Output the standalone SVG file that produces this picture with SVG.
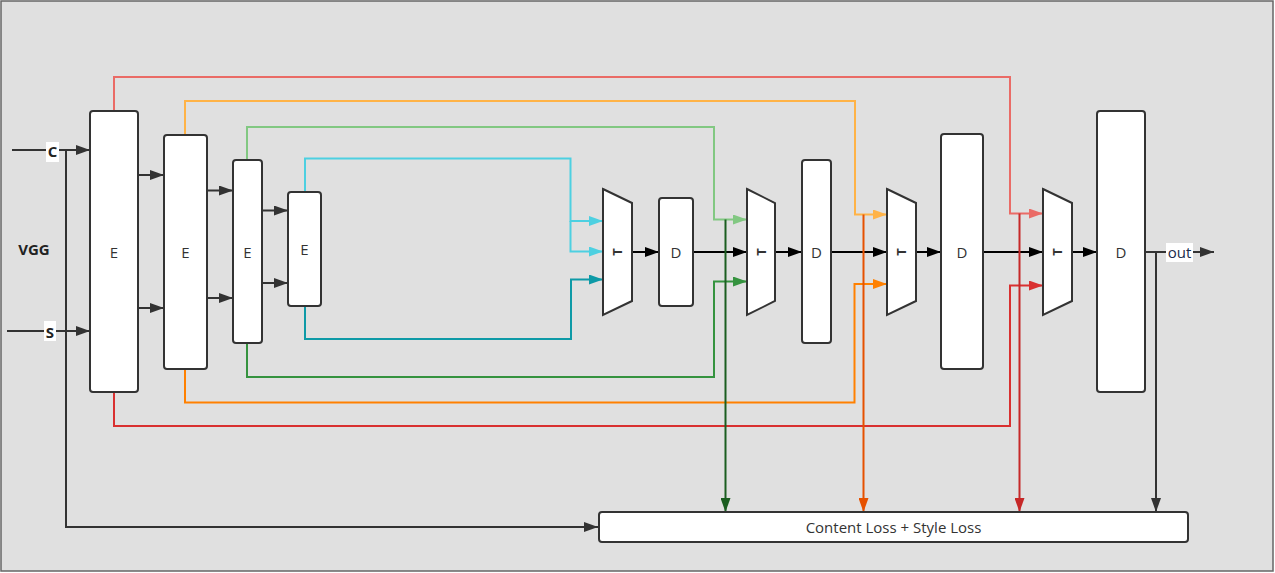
<svg xmlns="http://www.w3.org/2000/svg" width="1275" height="573" viewBox="0 0 1275 573">
<style>
.box{fill:#fff;stroke:#333;stroke-width:2}
.lbl{font-family:"Open Sans","Liberation Sans",sans-serif;font-size:15px;fill:#333;text-anchor:middle;dominant-baseline:central}
.bold{font-family:"Open Sans","Liberation Sans",sans-serif;font-size:15px;font-weight:bold;fill:#222;text-anchor:middle;dominant-baseline:central}
.tl{font-family:"Open Sans","Liberation Sans",sans-serif;font-size:13px;font-weight:bold;fill:#333;text-anchor:middle;dominant-baseline:central}
.ln{fill:none;stroke-width:2}
</style>
<defs>
<marker id="aG" markerUnits="userSpaceOnUse" markerWidth="14" markerHeight="10" refX="14" refY="5" orient="auto"><path d="M0,0L14,5L0,10z" fill="#333"/></marker>
<marker id="aK" markerUnits="userSpaceOnUse" markerWidth="14" markerHeight="10" refX="14" refY="5" orient="auto"><path d="M0,0L14,5L0,10z" fill="#000"/></marker>
<marker id="aPink" markerUnits="userSpaceOnUse" markerWidth="14" markerHeight="10" refX="14" refY="5" orient="auto"><path d="M0,0L14,5L0,10z" fill="#ea6b66"/></marker>
<marker id="aLO" markerUnits="userSpaceOnUse" markerWidth="14" markerHeight="10" refX="14" refY="5" orient="auto"><path d="M0,0L14,5L0,10z" fill="#ffb347"/></marker>
<marker id="aLG" markerUnits="userSpaceOnUse" markerWidth="14" markerHeight="10" refX="14" refY="5" orient="auto"><path d="M0,0L14,5L0,10z" fill="#82c882"/></marker>
<marker id="aCy" markerUnits="userSpaceOnUse" markerWidth="14" markerHeight="10" refX="14" refY="5" orient="auto"><path d="M0,0L14,5L0,10z" fill="#4dd0e1"/></marker>
<marker id="aTe" markerUnits="userSpaceOnUse" markerWidth="14" markerHeight="10" refX="14" refY="5" orient="auto"><path d="M0,0L14,5L0,10z" fill="#0e9aa7"/></marker>
<marker id="aGr" markerUnits="userSpaceOnUse" markerWidth="14" markerHeight="10" refX="14" refY="5" orient="auto"><path d="M0,0L14,5L0,10z" fill="#35933f"/></marker>
<marker id="aOr" markerUnits="userSpaceOnUse" markerWidth="14" markerHeight="10" refX="14" refY="5" orient="auto"><path d="M0,0L14,5L0,10z" fill="#ff8000"/></marker>
<marker id="aRd" markerUnits="userSpaceOnUse" markerWidth="14" markerHeight="10" refX="14" refY="5" orient="auto"><path d="M0,0L14,5L0,10z" fill="#d93030"/></marker>
<marker id="aDG" markerUnits="userSpaceOnUse" markerWidth="14" markerHeight="10" refX="14" refY="5" orient="auto"><path d="M0,0L14,5L0,10z" fill="#1b5e20"/></marker>
<marker id="aOR" markerUnits="userSpaceOnUse" markerWidth="14" markerHeight="10" refX="14" refY="5" orient="auto"><path d="M0,0L14,5L0,10z" fill="#e65100"/></marker>
<marker id="aDR" markerUnits="userSpaceOnUse" markerWidth="14" markerHeight="10" refX="14" refY="5" orient="auto"><path d="M0,0L14,5L0,10z" fill="#c62828"/></marker>
</defs>
<rect x="1" y="1" width="1272" height="570" fill="#e0e0e0" stroke="#666" stroke-width="1.5"/>

<g id="connectors">
<path class="ln" stroke="#333" d="M12,150H90" marker-end="url(#aG)"/>
<path class="ln" stroke="#333" d="M7,331H90" marker-end="url(#aG)"/>
<path class="ln" stroke="#333" d="M66,150V527H598" marker-end="url(#aG)"/>
<path class="ln" stroke="#333" d="M138,175H164" marker-end="url(#aG)"/>
<path class="ln" stroke="#333" d="M138,308H164" marker-end="url(#aG)"/>
<path class="ln" stroke="#333" d="M207,190.5H233" marker-end="url(#aG)"/>
<path class="ln" stroke="#333" d="M207,298H233" marker-end="url(#aG)"/>
<path class="ln" stroke="#333" d="M262,210.5H288" marker-end="url(#aG)"/>
<path class="ln" stroke="#333" d="M262,283H288" marker-end="url(#aG)"/>
<path class="ln" stroke="#ea6b66" d="M114,111V77H1010V213.5H1043" marker-end="url(#aPink)"/>
<path class="ln" stroke="#ffb347" d="M185,135V101H855V214.5H887" marker-end="url(#aLO)"/>
<path class="ln" stroke="#82c882" d="M247,160V127H714V219.5H747" marker-end="url(#aLG)"/>
<path class="ln" stroke="#4dd0e1" d="M305,192V158.5H570.5V221H603" marker-end="url(#aCy)"/>
<path class="ln" stroke="#4dd0e1" d="M570.5,221V251.5H603" marker-end="url(#aCy)"/>
<path class="ln" stroke="#0e9aa7" d="M305,306V339H571V279.5H603" marker-end="url(#aTe)"/>
<path class="ln" stroke="#35933f" d="M247,343V377H714V281.5H747" marker-end="url(#aGr)"/>
<path class="ln" stroke="#ff8000" d="M185,369V402.5H854.5V284H887" marker-end="url(#aOr)"/>
<path class="ln" stroke="#d93030" d="M114,392V426H1010V285.5H1043" marker-end="url(#aRd)"/>
<path class="ln" stroke="#000" d="M632,252H659" marker-end="url(#aK)"/>
<path class="ln" stroke="#000" d="M693,252H747" marker-end="url(#aK)"/>
<path class="ln" stroke="#000" d="M775,252H802" marker-end="url(#aK)"/>
<path class="ln" stroke="#000" d="M831,252H887" marker-end="url(#aK)"/>
<path class="ln" stroke="#000" d="M916,252H941" marker-end="url(#aK)"/>
<path class="ln" stroke="#000" d="M983,252H1043" marker-end="url(#aK)"/>
<path class="ln" stroke="#000" d="M1072,252H1097" marker-end="url(#aK)"/>
<path class="ln" stroke="#333" d="M1145,252H1214" marker-end="url(#aG)"/>
<path class="ln" stroke="#1b5e20" d="M725.5,219.5V512" marker-end="url(#aDG)"/>
<path class="ln" stroke="#e65100" d="M863.5,214.5V512" marker-end="url(#aOR)"/>
<path class="ln" stroke="#c62828" d="M1019.5,213.5V512" marker-end="url(#aDR)"/>
<path class="ln" stroke="#333" d="M1156,252V512" marker-end="url(#aG)"/>
</g>

<g id="label-c"><rect x="46" y="142" width="13" height="20" fill="#fff"/><text class="bold" x="52.5" y="151">C</text></g>
<g id="label-s"><rect x="44" y="321" width="12" height="20" fill="#fff"/><text class="bold" x="50" y="332">S</text></g>
<g id="label-vgg"><text class="bold" x="34" y="249">VGG</text></g>

<g id="e1"><rect class="box" x="90" y="111" width="48" height="281" rx="3"/><text class="lbl" x="114" y="252">E</text></g>
<g id="e2"><rect class="box" x="164" y="135" width="43" height="234" rx="3"/><text class="lbl" x="185.5" y="252">E</text></g>
<g id="e3"><rect class="box" x="233" y="160" width="29" height="183" rx="3"/><text class="lbl" x="247.5" y="252">E</text></g>
<g id="e4"><rect class="box" x="288" y="192" width="33" height="114" rx="3"/><text class="lbl" x="304.5" y="249">E</text></g>

<g id="t1"><polygon class="box" points="603,189 632,203 632,301 603,315"/><text class="tl" transform="translate(617,252) rotate(-90)">T</text></g>
<g id="d1"><rect class="box" x="659" y="198" width="34" height="108" rx="3"/><text class="lbl" x="676" y="252">D</text></g>
<g id="t2"><polygon class="box" points="747,189 775,203 775,301 747,315"/><text class="tl" transform="translate(761,252) rotate(-90)">T</text></g>
<g id="d2"><rect class="box" x="802" y="160" width="29" height="183" rx="3"/><text class="lbl" x="816.5" y="252">D</text></g>
<g id="t3"><polygon class="box" points="887,189 916,203 916,301 887,315"/><text class="tl" transform="translate(901,252) rotate(-90)">T</text></g>
<g id="d3"><rect class="box" x="941" y="134" width="42" height="235" rx="3"/><text class="lbl" x="962" y="252">D</text></g>
<g id="t4"><polygon class="box" points="1043,189 1072,203 1072,301 1043,315"/><text class="tl" transform="translate(1057,252) rotate(-90)">T</text></g>
<g id="d4"><rect class="box" x="1097" y="111" width="48" height="281" rx="3"/><text class="lbl" x="1121" y="252">D</text></g>

<g id="out"><rect x="1166" y="243" width="27" height="19" fill="#fff"/><text class="lbl" x="1179.5" y="252" style="fill:#1a2a4a">out</text></g>

<g id="loss"><rect class="box" x="599" y="512" width="589" height="30" rx="3"/><text class="lbl" x="893.5" y="527">Content Loss + Style Loss</text></g>
</svg>
